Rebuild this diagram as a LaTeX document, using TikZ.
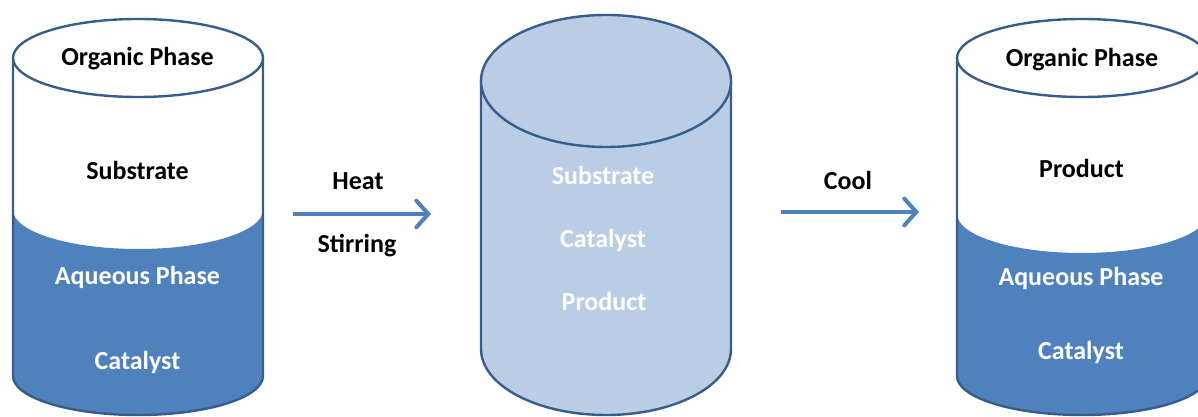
\documentclass[tikz,border=0pt]{standalone}
\usepackage{fontspec}
\setmainfont{Carlito}
\usetikzlibrary{arrows.meta}
\definecolor{cacc}{HTML}{4F81BD}
\definecolor{cedge}{HTML}{385D8A}
\definecolor{clight}{HTML}{B9CDE5}
\begin{document}
\begin{tikzpicture}[x=0.75pt,y=0.75pt,
  lbl/.style={font=\fontsize{19.5}{23}\selectfont\bfseries, anchor=base, inner sep=0pt},
  blk/.style={lbl,text=black},
  wht/.style={lbl,text=white},
  cyl/.style={draw=cedge,line width=1.8pt},
  flow/.style={draw=cacc,line width=3pt,-{Straight Barb[length=9pt,width=20pt,line cap=round]}}]
\useasboundingbox (0,0) rectangle (1198,417);
% left cylinder
\fill[white] (13,359) -- (13,41) arc[start angle=180,end angle=360,x radius=93.75pt,y radius=29.25pt] -- (263,359) -- cycle;
\fill[cacc] (13,207) -- (13,41) arc[start angle=180,end angle=360,x radius=93.75pt,y radius=29.25pt] -- (263,207) arc[start angle=360,end angle=180,x radius=93.75pt,y radius=29.25pt] -- cycle;
\draw[cyl] (13,359) -- (13,41) arc[start angle=180,end angle=360,x radius=93.75pt,y radius=29.25pt] -- (263,359);
\draw[cyl,fill=white] (138,359) ellipse[x radius=93.75pt,y radius=29.25pt];
% middle cylinder
\fill[clight] (481,336) -- (481,68) arc[start angle=180,end angle=360,x radius=93.75pt,y radius=49.5pt] -- (731,336) -- cycle;
\draw[cyl] (481,336) -- (481,68) arc[start angle=180,end angle=360,x radius=93.75pt,y radius=49.5pt] -- (731,336);
\draw[cyl,fill=clight] (606,336) ellipse[x radius=93.75pt,y radius=49.5pt];
% right cylinder
\fill[white] (957,359) -- (957,41) arc[start angle=180,end angle=360,x radius=93.75pt,y radius=29.25pt] -- (1207,359) -- cycle;
\fill[cacc] (957,203) -- (957,41) arc[start angle=180,end angle=360,x radius=93.75pt,y radius=29.25pt] -- (1207,203) arc[start angle=360,end angle=180,x radius=93.75pt,y radius=29.25pt] -- cycle;
\draw[cyl] (957,359) -- (957,41) arc[start angle=180,end angle=360,x radius=93.75pt,y radius=29.25pt] -- (1207,359);
\draw[cyl,fill=white] (1082,359) ellipse[x radius=93.75pt,y radius=29.25pt];
% texts
\node[blk] (lorg) at (137.5,351) {Organic Phase};
\node[blk] (lsub) at (137.5,237) {Substrate};
\node[wht] (laq) at (137.5,132) {Aqueous Phase};
\node[wht] (lcat) at (137.5,47) {Catalyst};
\node[wht] (msub) at (603,232) {Substrate};
\node[wht] (mcat) at (603,169) {Catalyst};
\node[wht] (mprod) at (604,106) {Product};
\node[blk] (rorg) at (1082,350) {Organic Phase};
\node[blk] (rprod) at (1081.5,239) {Product};
\node[wht] (raq) at (1081,131) {Aqueous Phase};
\node[wht] (rcat) at (1081,57) {Catalyst};
\node[blk] (heat) at (358,227) {Heat};
\node[blk] (stir) at (357,164) {Stirring};
\node[blk] (cool) at (848,227) {Cool};
% arrows
\coordinate (h1) at (293,203);
\coordinate (h2) at (431,203);
\coordinate (c1) at (781,205);
\coordinate (c2) at (919,205);
\draw[flow] (h1) -- (h2);
\draw[flow] (c1) -- (c2);
\end{tikzpicture}
\end{document}
